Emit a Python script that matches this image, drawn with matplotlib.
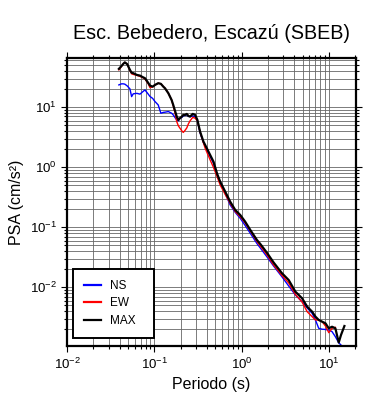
import matplotlib
matplotlib.use("Agg")
import matplotlib.pyplot as plt
from matplotlib.ticker import LogLocator, LogFormatterSciNotation, NullFormatter

plt.rcParams['font.family'] = ['Liberation Sans', 'DejaVu Sans']
plt.rcParams['mathtext.fontset'] = 'custom'
plt.rcParams['mathtext.rm'] = 'Liberation Sans'
plt.rcParams['mathtext.it'] = 'Liberation Sans'
plt.rcParams['mathtext.bf'] = 'Liberation Sans'

# Periods (s)
period = [0.0393, 0.0422, 0.0441, 0.0460, 0.0490, 0.0526, 0.0550, 0.0574, 0.0632,
          0.0686, 0.0728, 0.0782, 0.0853, 0.0893, 0.0959, 0.102, 0.111, 0.119,
          0.127, 0.133, 0.145, 0.158, 0.165, 0.173, 0.181, 0.189, 0.197, 0.207,
          0.215, 0.225, 0.236, 0.246, 0.257, 0.276, 0.294, 0.312, 0.335, 0.366,
          0.383, 0.418, 0.437, 0.477, 0.526, 0.569, 0.650, 0.741, 0.847, 0.966,
          1.10, 1.26, 1.50, 1.64, 1.96, 2.33, 2.91, 3.47, 4.14, 4.94, 5.65,
          6.44, 7.03, 7.67, 8.39, 9.16, 10.0, 10.9, 11.9, 13.0, 13.8, 15.1]

# PSA (cm/s^2)
ns = [23.5, 24.5, 24.5, 24.2, 22.6, 20.2, 15.0, 16.7, 17.0,
      16.5, 17.8, 19.4, 16.5, 15.1, 14.0, 12.4, 10.9, 7.94,
      8.19, 8.26, 8.45, 7.94, 7.44, 6.71, 6.14, 5.92, 6.56, 6.76,
      7.16, 7.30, 7.44, 7.03, 6.97, 7.16, 6.88, 5.92, 3.73, 2.59,
      2.26, 1.73, 1.51, 1.17, 0.744, 0.558, 0.366, 0.235, 0.177, 0.141,
      0.107, 0.0794, 0.0537, 0.0452, 0.0320, 0.0226, 0.0149, 0.0105, 0.00745, 0.00575, 0.00452,
      0.00369, 0.00285, 0.00207, 0.00200, 0.00198, 0.00194, 0.00182, 0.00150, 0.00119, 0.00109]

ew = [41.9, 47.9, 52.7, 55.8, 52.1, 41.1, 36.0, 35.2, 33.9,
      32.6, 31.4, 29.6, 24.5, 21.2, 21.8, 23.5, 25.1, 24.5,
      22.0, 20.6, 17.1, 13.2, 10.5, 8.04, 5.75, 4.88, 4.47, 4.03,
      3.80, 4.10, 4.52, 5.27, 5.92, 6.76, 6.56, 5.92, 3.87, 2.54,
      2.07, 1.54, 1.32, 0.993, 0.689, 0.507, 0.352, 0.251, 0.183, 0.150,
      0.118, 0.0867, 0.0580, 0.0488, 0.0345, 0.0235, 0.0157, 0.0118, 0.00759, 0.00569, 0.00392,
      0.00324, 0.00285, 0.00285, 0.00267, 0.00226, 0.00175, 0.00207, 0.00215]

mx = [43.5, 48.7, 52.7, 55.8, 52.1, 41.9, 37.5, 36.9, 34.5,
      33.6, 32.0, 30.4, 25.4, 22.9, 22.0, 23.5, 25.1, 24.5,
      22.0, 20.6, 17.1, 13.2, 10.9, 8.68, 6.97, 6.14, 6.56, 6.97,
      7.44, 7.44, 7.73, 7.16, 6.97, 7.73, 7.44, 6.14, 3.92, 2.67,
      2.35, 1.82, 1.60, 1.24, 0.773, 0.575, 0.392, 0.267, 0.194, 0.160,
      0.124, 0.0902, 0.0614, 0.0527, 0.0374, 0.0259, 0.0171, 0.0132, 0.00845, 0.00656, 0.00475,
      0.00392, 0.00324, 0.00285, 0.00267, 0.00251, 0.00207, 0.00220, 0.00207, 0.00120, 0.00160, 0.00226]

fig = plt.figure(figsize=(3.9, 4.0), dpi=100)
ax = fig.add_axes([0.1718, 0.135, 0.741, 0.72])

ax.plot(period[:len(ns)], ns, color='#0000ff', lw=1.0, label='NS')
ax.plot(period[:len(ew)], ew, color='#ff0000', lw=1.0, label='EW')
ax.plot(period[:len(mx)], mx, color='black', lw=1.6, label='MAX')

ax.set_xscale('log')
ax.set_yscale('log')
ax.set_xlim(0.01, 20.5)
ax.set_ylim(0.00105, 66)

for axis in (ax.xaxis, ax.yaxis):
    axis.set_major_locator(LogLocator(base=10, numticks=10))
    axis.set_minor_locator(LogLocator(base=10, subs=range(2, 10), numticks=20))
    axis.set_major_formatter(LogFormatterSciNotation())
    axis.set_minor_formatter(NullFormatter())

ax.grid(True, which='both', color='0.4', lw=0.6)
ax.set_axisbelow(True)
ax.tick_params(which='both', direction='out', top=True, right=True, labelsize=9.5, width=0.8)
ax.tick_params(which='major', length=4.0)
ax.tick_params(which='minor', length=2.0)
for s in ax.spines.values():
    s.set_linewidth(1.6)

ax.set_title('Esc. Bebedero, Escazú (SBEB)', fontsize=14.2, pad=14)
ax.set_xlabel('Periodo (s)', fontsize=11.5, labelpad=4)
ax.set_ylabel('PSA (cm/s²)', fontsize=11.5, labelpad=4)

leg = ax.legend(loc='lower left', bbox_to_anchor=(0.021, 0.028, 0.28, 0.25), mode='expand',
                borderaxespad=0, fontsize=8.5, handlelength=1.4, handletextpad=0.8,
                labelspacing=0.45, borderpad=0.95, fancybox=False, framealpha=1)
leg.get_frame().set_edgecolor('black')
leg.get_frame().set_linewidth(1.4)
for l in leg.get_lines():
    l.set_linewidth(1.6)

fig.savefig('out.png', dpi=100)
